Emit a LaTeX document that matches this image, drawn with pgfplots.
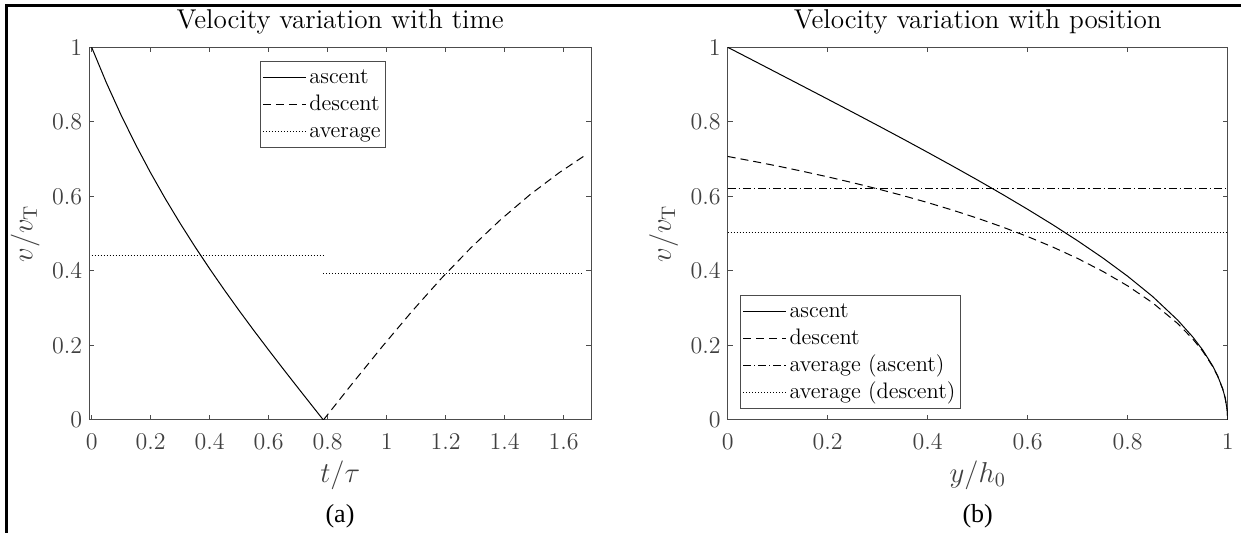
\documentclass[border=0pt]{standalone}
\usepackage{fontspec}
\usepackage{pgfplots}
\pgfplotsset{compat=1.18}
\newfontfamily\capfont{Liberation Serif}

\definecolor{axgray}{gray}{0.3}

% drag problem: ascent tan(pi/4-t), descent tanh(t-pi/4)
\pgfplotstableread{
t v
0.00 1.0000
0.05 0.9047
0.10 0.8176
0.15 0.7374
0.20 0.6629
0.25 0.5932
0.30 0.5275
0.35 0.4652
0.40 0.4057
0.45 0.3486
0.50 0.2934
0.55 0.2398
0.60 0.1876
0.65 0.1362
0.70 0.0856
0.75 0.0354
0.7854 0.0000
}\ascT
\pgfplotstableread{
t v
0.7854 0.0000
0.8854 0.0997
0.9854 0.1974
1.0854 0.2913
1.1854 0.3800
1.2854 0.4621
1.3854 0.5370
1.4854 0.6044
1.5854 0.6640
1.6668 0.7071
}\desT
\pgfplotstableread{
s v
0.00 1.0000
0.05 0.9654
0.10 0.9306
0.15 0.8958
0.20 0.8609
0.25 0.8257
0.30 0.7903
0.35 0.7545
0.40 0.7181
0.45 0.6812
0.50 0.6436
0.55 0.6050
0.60 0.5652
0.65 0.5240
0.70 0.4807
0.75 0.4350
0.80 0.3856
0.85 0.3311
0.90 0.2679
0.93 0.2230
0.95 0.1878
0.97 0.1450
0.98 0.1182
0.99 0.0834
0.995 0.0589
0.999 0.0263
1.00 0.0000
}\ascY
\pgfplotstableread{
s v
0.00 0.7071
0.05 0.6945
0.10 0.6813
0.15 0.6672
0.20 0.6524
0.25 0.6367
0.30 0.6200
0.35 0.6023
0.40 0.5833
0.45 0.5630
0.50 0.5412
0.55 0.5176
0.60 0.4921
0.65 0.4641
0.70 0.4333
0.75 0.3989
0.80 0.3598
0.85 0.3142
0.90 0.2588
0.93 0.2176
0.95 0.1846
0.97 0.1435
0.98 0.1173
0.99 0.0831
0.995 0.0588
0.999 0.0263
1.00 0.0000
}\desY

\pgfplotsset{
  mstyle/.style={
    scale only axis, height=186.35pt,
    axis line style={axgray, line width=0.5pt},
    every tick/.style={axgray, line width=0.5pt},
    tick align=inside, major tick length=2.5pt,
    ticklabel style={font=\fontsize{13}{15}\selectfont, text=black!75},
    xticklabel style={yshift=-3.5pt},
    label style={font=\fontsize{14}{16}\selectfont, text=black!75},
    every axis title shift=0pt,
    title style={font=\fontsize{13.6}{16}\selectfont, at={(0.5,1)}, anchor=base, yshift=9.5pt},
    xlabel style={at={(0.5,0)}, anchor=center, yshift=-27.5pt},
    ylabel style={at={(0,0.5)}, anchor=center, yshift=32pt},
    ymin=0, ymax=1, ytick={0,0.2,0.4,0.6,0.8,1},
    legend style={draw=axgray, line width=0.5pt, font=\fontsize{11.2}{13}\selectfont,
      inner xsep=1pt, inner ysep=1.5pt, row sep=0.5pt,
      nodes={text height=8.3pt, text depth=2.7pt, inner ysep=1pt, inner xsep=1.5pt}},
    legend cell align=left,
    legend image code/.code={\draw[#1] (0pt,0pt) -- (21.5pt,0pt);},
  },
  sld/.style={black, no markers, line width=0.5pt},
  dsh/.style={sld, dash pattern=on 4pt off 2.5pt},
  dtt/.style={sld, dash pattern=on 0.5pt off 1pt},
  dsd/.style={sld, dash pattern=on 4pt off 1.5pt on 0.6pt off 1.5pt},
}

\begin{document}
\begin{tikzpicture}
\useasboundingbox (0,0) rectangle (620.5pt,266.5pt);
\draw[line width=1.3pt] (3.1pt,0) -- (3.1pt,263.85pt) -- (620.5pt,263.85pt);

\begin{axis}[mstyle, at={(44.65pt,56.5pt)}, anchor=south west, width=250.85pt,
  xmin=-0.008, xmax=1.6925, xtick={0,0.2,...,1.6},
  title={Velocity variation with time},
  xlabel={$t/\tau$}, ylabel={$v/v_{\mathrm{T}}$},
  legend style={at={(0.340,0.963)}, anchor=north west}]
\addplot[sld] table[x=t,y=v] {\ascT};
\addlegendentry{ascent}
\addplot[dsh] table[x=t,y=v] {\desT};
\addlegendentry{descent}
\addplot[dtt] coordinates {(0,0.4413) (0.7854,0.4413)};
\addlegendentry{average}
\addplot[dtt, forget plot] coordinates {(0.7854,0.3932) (1.6668,0.3932)};
\end{axis}

\begin{axis}[mstyle, at={(363.85pt,56.5pt)}, anchor=south west, width=250pt,
  xmin=0, xmax=1, xtick={0,0.2,0.4,0.6,0.8,1},
  title={Velocity variation with position},
  xlabel={$y/h_0$}, ylabel={$v/v_{\mathrm{T}}$},
  legend style={at={(0.0246,0.0287)}, anchor=south west}]
\addplot[sld] table[x=s,y=v] {\ascY};
\addlegendentry{ascent}
\addplot[dsh] table[x=s,y=v] {\desY};
\addlegendentry{descent}
\addplot[dsd] coordinates {(0,0.621) (1,0.621)};
\addlegendentry{average (ascent)}
\addplot[dtt] coordinates {(0,0.503) (1,0.503)};
\addlegendentry{average (descent)}
\end{axis}

\node[font=\capfont\fontsize{13}{15}\selectfont] at (170pt,8.5pt) {(a)};
\node[font=\capfont\fontsize{13}{15}\selectfont] at (488.85pt,8.5pt) {(b)};
\end{tikzpicture}
\end{document}
